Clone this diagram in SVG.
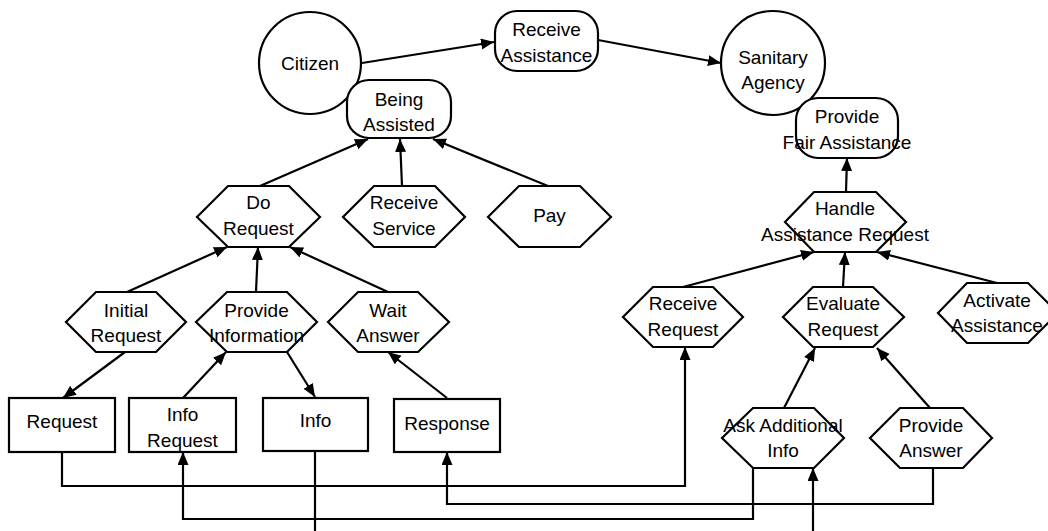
<svg xmlns="http://www.w3.org/2000/svg" width="1048" height="531" viewBox="0 0 1048 531">
<style>
.n{fill:#fff;stroke:#000;stroke-width:2.2}
.t{font-family:"Liberation Sans",Arial,sans-serif;font-size:19px;fill:#000;text-anchor:middle}
.e{fill:none;stroke:#000;stroke-width:2.2}
</style>
<defs>
<marker id="a" markerUnits="userSpaceOnUse" markerWidth="14" markerHeight="12" refX="13" refY="5.5" orient="auto">
<path d="M0,0 L13,5.5 L0,11 z" fill="#000"/>
</marker>
</defs>
<rect width="1048" height="531" fill="#fff"/>
<g id="connectors">
<path class="e" d="M362,63 L494,42" marker-end="url(#a)"/>
<path class="e" d="M598,40 L721,63" marker-end="url(#a)"/>
<path class="e" d="M260,186 L368,139" marker-end="url(#a)"/>
<path class="e" d="M402,186 L400,139" marker-end="url(#a)"/>
<path class="e" d="M548,186 L433,139" marker-end="url(#a)"/>
<path class="e" d="M127,292 L227,247" marker-end="url(#a)"/>
<path class="e" d="M256,292 L258,247" marker-end="url(#a)"/>
<path class="e" d="M388,292 L290,247" marker-end="url(#a)"/>
<path class="e" d="M125,352 L63,398" marker-end="url(#a)"/>
<path class="e" d="M183,398 L226,352" marker-end="url(#a)"/>
<path class="e" d="M287,352 L315,397" marker-end="url(#a)"/>
<path class="e" d="M447,398 L388,352" marker-end="url(#a)"/>
<path class="e" d="M846,192 L847,158" marker-end="url(#a)"/>
<path class="e" d="M683,287 L814,252" marker-end="url(#a)"/>
<path class="e" d="M843,287 L845,252" marker-end="url(#a)"/>
<path class="e" d="M997,283 L877,252" marker-end="url(#a)"/>
<path class="e" d="M784,408 L815,348" marker-end="url(#a)"/>
<path class="e" d="M930,408 L877,348" marker-end="url(#a)"/>
<path class="e" d="M62,452 V486 H685 V347" marker-end="url(#a)"/>
<path class="e" d="M753,468 V519 H183 V452" marker-end="url(#a)"/>
<path class="e" d="M933,468 V504 H447 V452" marker-end="url(#a)"/>
<path class="e" d="M315,451 V560 H813 V468" marker-end="url(#a)"/>
</g>
<g id="citizen"><circle class="n" cx="310" cy="63" r="51"/><text class="t" x="310" y="70">Citizen</text></g>
<g id="sanitary-agency"><circle class="n" cx="773" cy="63" r="52"/><text class="t" x="773" y="64">Sanitary</text><text class="t" x="773" y="89">Agency</text></g>
<g id="receive-assistance"><rect class="n" x="495" y="11" width="103" height="60" rx="22"/><text class="t" x="546.5" y="36">Receive</text><text class="t" x="546.5" y="62">Assistance</text></g>
<g id="being-assisted"><rect class="n" x="347" y="80" width="104" height="58" rx="22"/><text class="t" x="399" y="106">Being</text><text class="t" x="399" y="131">Assisted</text></g>
<g id="provide-fair-assistance"><rect class="n" x="796" y="98" width="102" height="60" rx="22"/><text class="t" x="847" y="123">Provide</text><text class="t" x="847" y="149">Fair Assistance</text></g>
<g id="handle-assistance-request"><polygon class="n" points="814,192 876,192 906,222 876,252 814,252 785,222"/><text class="t" x="845" y="215">Handle</text><text class="t" x="845" y="241">Assistance Request</text></g>
<g id="receive-request"><polygon class="n" points="653,287 713,287 743,317 713,347 653,347 623,317"/><text class="t" x="683" y="310">Receive</text><text class="t" x="683" y="336">Request</text></g>
<g id="evaluate-request"><polygon class="n" points="813,287 873,287 904,317 873,347 813,347 783,317"/><text class="t" x="843" y="310">Evaluate</text><text class="t" x="843" y="336">Request</text></g>
<g id="activate-assistance"><polygon class="n" points="967,283 1028,283 1058,313 1028,343 967,343 938,313"/><text class="t" x="997" y="307">Activate</text><text class="t" x="997" y="332">Assistance</text></g>
<g id="do-request"><polygon class="n" points="228,186 289,186 320,217 289,247 228,247 197,217"/><text class="t" x="258.5" y="209">Do</text><text class="t" x="258.5" y="235">Request</text></g>
<g id="receive-service"><polygon class="n" points="374,186 435,186 465,217 435,247 374,247 343,217"/><text class="t" x="404" y="209">Receive</text><text class="t" x="404" y="235">Service</text></g>
<g id="pay"><polygon class="n" points="519,186 580,186 611,217 580,247 519,247 488,217"/><text class="t" x="549.5" y="222">Pay</text></g>
<g id="initial-request"><polygon class="n" points="96,292 156,292 186,322 156,352 96,352 66,322"/><text class="t" x="126" y="317">Initial</text><text class="t" x="126" y="342">Request</text></g>
<g id="provide-information"><polygon class="n" points="227,292 287,292 317,322 287,352 227,352 196,322"/><text class="t" x="256.5" y="317">Provide</text><text class="t" x="256.5" y="342">Information</text></g>
<g id="wait-answer"><polygon class="n" points="358,292 418,292 449,322 418,352 358,352 328,322"/><text class="t" x="388" y="317">Wait</text><text class="t" x="388" y="342">Answer</text></g>
<g id="ask-additional-info"><polygon class="n" points="753,408 814,408 844,438 814,468 753,468 722,438"/><text class="t" x="783" y="432">Ask Additional</text><text class="t" x="783" y="457">Info</text></g>
<g id="provide-answer"><polygon class="n" points="900,408 963,408 992,438 963,468 900,468 870,438"/><text class="t" x="931" y="432">Provide</text><text class="t" x="931" y="457">Answer</text></g>
<g id="request"><rect class="n" x="9" y="398" width="106" height="54"/><text class="t" x="62" y="428">Request</text></g>
<g id="info-request"><rect class="n" x="129" y="398" width="107" height="54"/><text class="t" x="182.5" y="421">Info</text><text class="t" x="182.5" y="447">Request</text></g>
<g id="info"><rect class="n" x="263" y="398" width="105" height="53"/><text class="t" x="315.5" y="427">Info</text></g>
<g id="response"><rect class="n" x="394" y="399" width="106" height="53"/><text class="t" x="447" y="430">Response</text></g>
</svg>
